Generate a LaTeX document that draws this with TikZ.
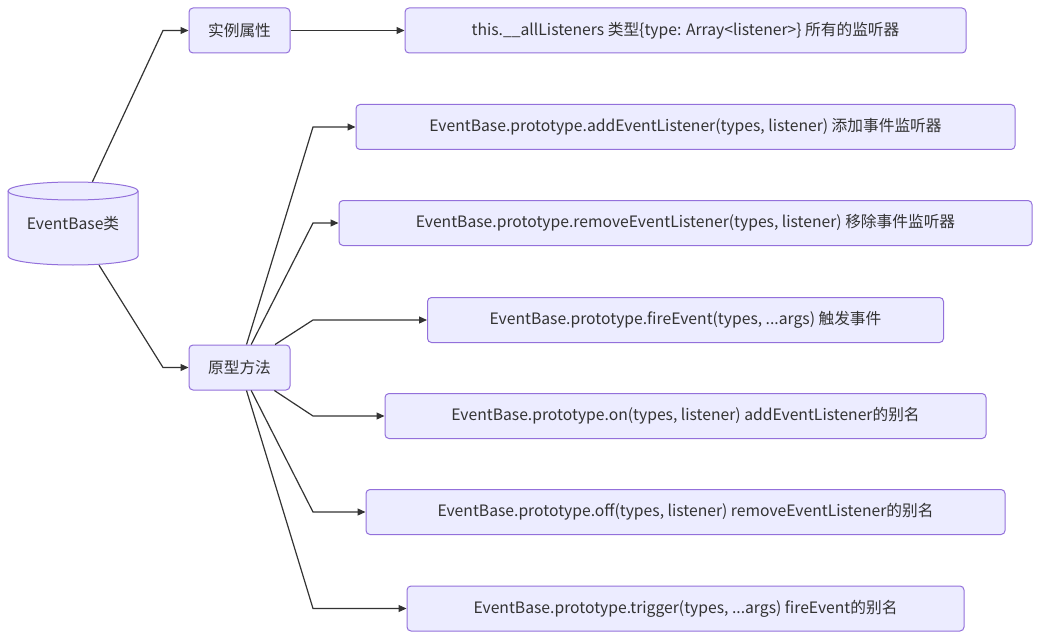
\documentclass[tikz,border=0pt]{standalone}
\usepackage{fontspec}
\setmainfont{Noto Sans CJK SC}
\usetikzlibrary{arrows.meta}
\usetikzlibrary{positioning}
\definecolor{boxfill}{HTML}{ECECFF}
\definecolor{boxline}{HTML}{9370DB}
\definecolor{linkline}{HTML}{333333}
\tikzset {
  % path from node to node, arrow at the end
  link/.style = {
    draw = linkline,
    line width = 1.2pt,
    -{Triangle[length = 8pt, width = 7pt]}
  },
  % rounded box
  box/.style = {
    draw = boxline,
    fill = boxfill,
    line width = 1pt,
    rounded corners = 4pt,
    minimum height = 45pt,
    inner sep = 0,
    text = linkline,
    font = \fontsize{15.7pt}{18pt}\selectfont
  },
  % small box on the left
  group/.style = {
    box,
    minimum width = 101pt
  },
  % database shape body
  db/.style = {
    draw = boxline,
    fill = boxfill,
    line width = 1pt
  },
  % invisible node inside the database shape
  dbnode/.style = {
    minimum width = 130pt,
    minimum height = 83pt,
    inner sep = 0,
    text = linkline,
    font = \fontsize{15.7pt}{18pt}\selectfont
  }
}

\begin{document}
\begin{tikzpicture}[x = 1pt, y = -1pt]
    \useasboundingbox (0,0) rectangle (1040,639);

    % database shape
    \coordinate (clsc) at (73,223.5);
    \filldraw[db] ([xshift=-65pt, yshift=32.5pt]clsc)
        -- ([xshift=-65pt, yshift=-32.5pt]clsc)
        arc[start angle=180, end angle=360, x radius=65pt, y radius=9pt]
        -- ([xshift=65pt, yshift=32.5pt]clsc)
        arc[start angle=0, end angle=180, x radius=65pt, y radius=9pt]
        -- cycle;
    \draw[db, fill=none] ([xshift=-65pt, yshift=32.5pt]clsc)
        arc[start angle=180, end angle=360, x radius=65pt, y radius=9pt];
    \node[dbnode] (cls) at (clsc) {EventBase类};

    \node[group] (attr) at (239.5,30.5) {实例属性};
    \node[group] (proto) at (239.5,367.5) {原型方法};

    \node[box, minimum width = 561pt] (all) at (685.5,30.5)
        {this.\_\_allListeners 类型\{type: Array<listener>\} 所有的监听器};
    \node[box, minimum width = 659pt] (add) at (685.5,127)
        {EventBase.prototype.addEventListener(types, listener) 添加事件监听器};
    \node[box, minimum width = 693pt] (remove) at (685.5,223)
        {EventBase.prototype.removeEventListener(types, listener) 移除事件监听器};
    \node[box, minimum width = 516pt] (fire) at (685.5,320)
        {EventBase.prototype.fireEvent(types, ...args) 触发事件};
    \node[box, minimum width = 601pt] (on) at (685.5,416)
        {EventBase.prototype.on(types, listener) addEventListener的别名};
    \node[box, minimum width = 639pt] (off) at (685.5,512)
        {EventBase.prototype.off(types, listener) removeEventListener的别名};
    \node[box, minimum width = 557pt] (trigger) at (685.5,608.5)
        {EventBase.prototype.trigger(types, ...args) fireEvent的别名};

    % bend points
    \coordinate (b-attr) at (163,30.5);
    \coordinate (b-proto) at (163,367.5);
    \coordinate (b-add) at (313,127);
    \coordinate (b-remove) at (313,223);
    \coordinate (b-fire) at (313,320);
    \coordinate (b-on) at (313,416);
    \coordinate (b-off) at (313,512);
    \coordinate (b-trigger) at (313,608.5);

    \draw[link] (cls) -- (b-attr) -- (attr);
    \draw[link] (cls) -- (b-proto) -- (proto);
    \draw[link] (attr) -- (all);

    \draw[link] (proto) -- (b-add) -- (add);
    \draw[link] (proto) -- (b-remove) -- (remove);
    \draw[link] (proto) -- (b-fire) -- (fire);
    \draw[link] (proto) -- (b-on) -- (on);
    \draw[link] (proto) -- (b-off) -- (off);
    \draw[link] (proto) -- (b-trigger) -- (trigger);
\end{tikzpicture}
\end{document}
